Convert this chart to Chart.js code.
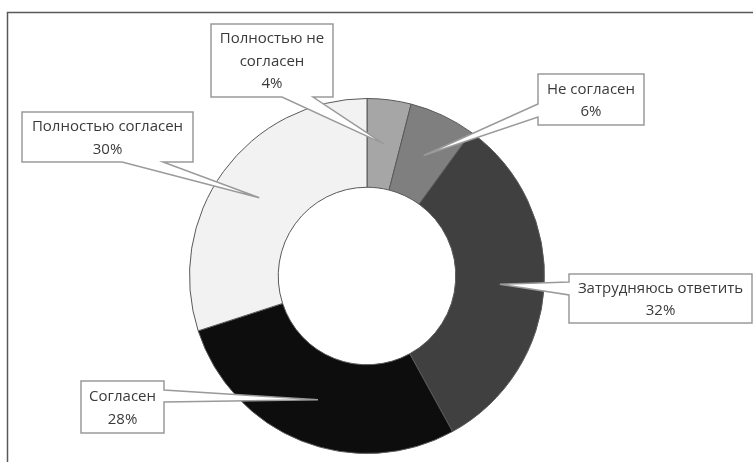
<!DOCTYPE html>
<html lang="ru">
<head>
  <meta charset="UTF-8">
  <script src="https://cdn.jsdelivr.net/npm/chart.js"></script>
  <style>
    html, body { margin: 0; padding: 0; background: #fff; }
    #wrap { width: 753px; height: 462px; position: relative; }
  </style>
</head>
<body>
  <div id="wrap"><canvas id="myChart"></canvas></div>

<script>
  // dados do gráfico
  const categories = ['Полностью не согласен', 'Не согласен', 'Затрудняюсь ответить', 'Согласен', 'Полностью согласен'];
  const values = [4, 6, 32, 28, 30];
  const labelLines = [['Полностью не', 'согласен'], ['Не согласен'], ['Затрудняюсь ответить'], ['Согласен'], ['Полностью согласен']];
  const sliceColors = ['#a6a6a6', '#7f7f7f', '#404040', '#0d0d0d', '#f2f2f2'];

  // caixas dos rótulos (posição manual, como no Excel)
  const boxes = [
    { x: 211, y: 24, w: 122, h: 73, side: 'bottom', b1: 282, b2: 313 },
    { x: 538, y: 74, w: 106, h: 51, side: 'left', b1: 104, b2: 117 },
    { x: 569, y: 274, w: 183, h: 49, side: 'left', b1: 282, b2: 295 },
    { x: 81, y: 381, w: 83, h: 52, side: 'right', b1: 390, b2: 402 },
    { x: 22, y: 112, w: 171, h: 50, side: 'bottom', b1: 122, b2: 163 }
  ];

  const textColor = '#3a3a3a';
  const boxBorder = '#9a9a9a';

  const calloutPlugin = {
    id: 'callouts',
    beforeDraw(chart) {
      const c = chart.ctx;
      c.save();
      c.strokeStyle = '#595959';
      c.lineWidth = 1.5;
      c.strokeRect(7.5, 12.5, 800, 500);
      c.restore();
    },
    afterDatasetsDraw(chart) {
      const c = chart.ctx;
      const meta = chart.getDatasetMeta(0);
      meta.data.forEach((arc, i) => {
        const b = boxes[i];
        const tip = arc.tooltipPosition(true);
        const r = b.x + b.w, bot = b.y + b.h;
        let pts;
        if (b.side === 'bottom') {
          pts = [[b.x, b.y], [r, b.y], [r, bot], [b.b2, bot], [tip.x, tip.y], [b.b1, bot], [b.x, bot]];
        } else if (b.side === 'left') {
          pts = [[b.x, b.y], [r, b.y], [r, bot], [b.x, bot], [b.x, b.b2], [tip.x, tip.y], [b.x, b.b1]];
        } else {
          pts = [[b.x, b.y], [r, b.y], [r, b.b1], [tip.x, tip.y], [r, b.b2], [r, bot], [b.x, bot]];
        }
        c.save();
        c.beginPath();
        pts.forEach((p, k) => k ? c.lineTo(p[0], p[1]) : c.moveTo(p[0], p[1]));
        c.closePath();
        c.fillStyle = '#ffffff';
        c.fill();
        c.strokeStyle = boxBorder;
        c.lineWidth = 1.5;
        c.lineJoin = 'miter';
        c.stroke();

        const lines = labelLines[i].concat([values[i] + '%']);
        const lh = 22.5;
        const cy = b.y + b.h / 2 + 1;
        c.fillStyle = textColor;
        c.font = '15px "Open Sans"';
        c.textAlign = 'center';
        c.textBaseline = 'middle';
        lines.forEach((t, k) => {
          c.fillText(t, b.x + b.w / 2, cy + (k - (lines.length - 1) / 2) * lh);
        });
        c.restore();
      });
    }
  };

  const ctx = document.getElementById('myChart');

  new Chart(ctx, {
    type: 'doughnut',
    data: {
      labels: categories,
      datasets: [{
        data: values,
        backgroundColor: sliceColors,
        borderColor: '#595959',
        borderWidth: 1
      }]
    },
    options: {
      responsive: true,
      maintainAspectRatio: false,
      animation: false,
      cutout: '50%',
      layout: {
        padding: { top: 98, bottom: 8, left: 189, right: 208 }
      },
      plugins: {
        legend: { display: false },
        tooltip: { enabled: false }
      }
    },
    plugins: [calloutPlugin]
  });
</script>
</body>
</html>
